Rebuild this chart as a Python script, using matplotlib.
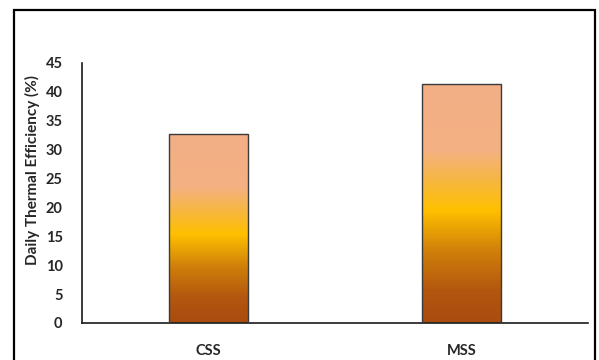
import numpy as np
import matplotlib
matplotlib.use("Agg")
import matplotlib.pyplot as plt
from matplotlib.colors import LinearSegmentedColormap
from matplotlib.patches import Rectangle

categories = ["CSS", "MSS"]
efficiency = [32.7, 41.4]
yticks = [0, 5, 10, 15, 20, 25, 30, 35, 40, 45]

plt.rcParams["font.family"] = ["Lato", "DejaVu Sans"]

# vertical gradient used inside each bar (bottom -> top)
grad = LinearSegmentedColormap.from_list(
    "bar_grad",
    [(0.00, "#A94C10"), (0.13, "#B2560F"), (0.30, "#D0800A"),
     (0.47, "#FFC000"), (0.60, "#F6B744"), (0.72, "#F4B183"),
     (1.00, "#F2AE85")],
)

fig = plt.figure(figsize=(5.99, 3.6), dpi=100)
ax = fig.add_axes([82 / 599, 37 / 360, 506 / 599, 260 / 360])

width = 0.316
bars = ax.bar(range(len(categories)), efficiency, width=width,
              color="none", edgecolor="#3a3a3a", linewidth=1.0, zorder=3)

g = np.linspace(0, 1, 256).reshape(-1, 1)
for b in bars:
    x0, y0 = b.get_x(), b.get_y()
    w, h = b.get_width(), b.get_height()
    im = ax.imshow(g, cmap=grad, origin="lower", aspect="auto",
                   extent=[x0, x0 + w, y0, y0 + h], zorder=2)
    im.set_clip_path(b)

ax.set_xlim(-0.5, 1.5)
ax.set_ylim(0, 45)
ax.set_xticks(range(len(categories)))
ax.set_xticklabels(categories)
ax.set_yticks(yticks)
ax.tick_params(length=0, labelsize=10.5, colors="#262626")
ax.tick_params(axis="x", pad=15)
ax.tick_params(axis="y", pad=14)
for lab in ax.get_xticklabels() + ax.get_yticklabels():
    lab.set_fontweight("bold")

for s in ["top", "right"]:
    ax.spines[s].set_visible(False)
for s in ["left", "bottom"]:
    ax.spines[s].set_color("#1a1a1a")
    ax.spines[s].set_linewidth(1.2)

ax.set_ylabel("Daily Thermal Efficiency (%)", fontsize=11,
              fontweight="bold", color="#262626")
ax.yaxis.set_label_coords(-0.083, 0.59)

# outer frame around the chart area
frame = Rectangle((14 / 599, -0.05), (595 - 14) / 599, (360 - 10) / 360 + 0.05,
                  transform=fig.transFigure, fill=False,
                  edgecolor="black", linewidth=1.6, clip_on=False)
fig.patches.append(frame)

fig.savefig("out.png", dpi=100)
